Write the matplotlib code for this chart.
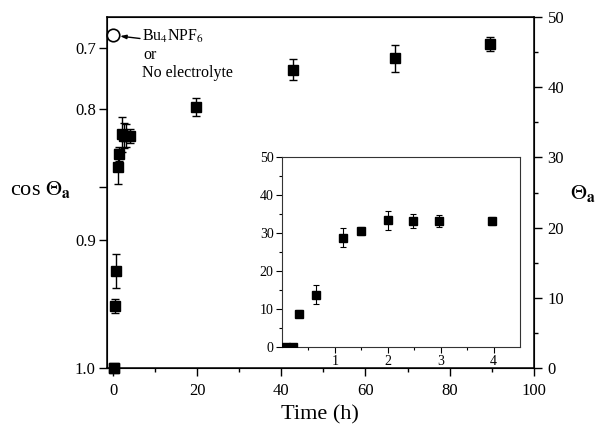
import numpy as np
import matplotlib
matplotlib.use("Agg")
import matplotlib.pyplot as plt

plt.rcParams['font.family'] = ['Liberation Serif', 'DejaVu Serif']
plt.rcParams['mathtext.fontset'] = 'stix'

# first hours (shown in main plot and in the inset)
t_early = [0.08, 0.2, 0.33, 0.65, 1.16, 1.5, 2.0, 2.48, 2.97, 3.97]
theta_early = [0, 0, 8.8, 13.8, 28.7, 30.5, 33.3, 33.1, 33.1, 33.1]
err_early = [0, 0, 1.0, 2.4, 2.5, 1.0, 2.5, 1.8, 1.6, 1.0]

# later times
t_late = [19.7, 42.8, 67.0, 89.7]
theta_late = [37.2, 42.5, 44.1, 46.2]
err_late = [1.25, 1.5, 1.9, 1.0]

# Bu4NPF6 / no electrolyte
t_ref = [0]
theta_ref = [47.4]

# left axis labels (cos theta_a), placed where they sit in the figure
cos_ticks = [0.7, 0.8, 0.9, 0.95, 1.0]
cos_labels = ['0.7', '0.8', '', '0.9', '1.0']

fig = plt.figure(figsize=(5.97, 4.26), dpi=100)
ax = fig.add_axes([0.179, 0.136, 0.715, 0.824])

t_all = t_early + t_late
th_all = theta_early + theta_late
er_all = err_early + err_late
ax.errorbar(t_all, th_all, yerr=er_all, fmt='s', color='k', ms=7.5,
            capsize=3, elinewidth=1, capthick=1, clip_on=False, zorder=3)
ax.plot(t_ref, theta_ref, 'o', mfc='white', mec='k', ms=9, mew=1.2,
        clip_on=False, zorder=4)

ax.set_xlim(-1.5, 100)
ax.set_ylim(0, 50)
ax.set_xticks(range(0, 101, 20))
ax.set_xticks(range(10, 100, 20), minor=True)
ax.set_yticks(np.degrees(np.arccos(cos_ticks)))
ax.set_yticklabels(cos_labels)
ax.tick_params(axis='both', which='major', labelsize=12, direction='out',
               length=6, width=1)
ax.tick_params(axis='x', which='major', pad=5)
ax.tick_params(axis='x', which='minor', direction='out', length=3, width=1)
ax.tick_params(axis='y', pad=2)
for s in ax.spines.values():
    s.set_linewidth(1.1)
ax.set_xlabel('Time (h)', fontsize=16, labelpad=4)

ax2 = ax.twinx()
ax2.set_ylim(0, 50)
ax2.set_yticks(range(0, 51, 10))
ax2.set_yticks(range(5, 50, 10), minor=True)
ax2.tick_params(axis='y', which='major', labelsize=12, direction='out',
                length=6, width=1, pad=4)
ax2.tick_params(axis='y', which='minor', direction='out', length=3, width=1)

fig.text(41 / 597, 1 - 190 / 426, r'cos $\Theta_\mathbf{a}$', fontsize=16,
         ha='center', va='center')
fig.text(583 / 597, 1 - 193 / 426, r'$\Theta_\mathbf{a}$', fontsize=16,
         ha='center', va='center')

# annotation for the open circle
fig.text(142 / 597, 1 - 36 / 426, r'Bu$_4$NPF$_6$', fontsize=11.5, va='center')
fig.text(143 / 597, 1 - 55 / 426, 'or', fontsize=11.5, va='center')
fig.text(142 / 597, 1 - 73 / 426, 'No electrolyte', fontsize=11.5, va='center')
ax.annotate('', xy=(t_ref[0], theta_ref[0]), xytext=(140 / 597, 1 - 38.5 / 426),
            textcoords='figure fraction',
            arrowprops=dict(arrowstyle='-|>,head_length=0.35,head_width=0.12',
                            color='k', lw=1, shrinkA=0, shrinkB=5))

# inset
axi = fig.add_axes([0.4724, 0.1854, 0.3987, 0.446])
axi.errorbar(t_early, theta_early, yerr=err_early, fmt='s', color='k', ms=5.5,
             capsize=2, elinewidth=0.8, capthick=0.8, zorder=3)
axi.set_xlim(0, 4.5)
axi.set_ylim(0, 50)
axi.set_xticks([1, 2, 3, 4])
axi.set_xticks(np.arange(0.5, 4.5, 1.0), minor=True)
axi.set_yticks(range(0, 51, 10))
axi.set_yticks(range(5, 50, 10), minor=True)
axi.tick_params(axis='both', which='major', labelsize=10, direction='out',
                length=4, width=0.8, pad=2)
axi.tick_params(axis='both', which='minor', direction='out', length=2, width=0.8)
for s in axi.spines.values():
    s.set_linewidth(0.8)
    s.set_color('#333333')

fig.savefig('out.png', dpi=100)
